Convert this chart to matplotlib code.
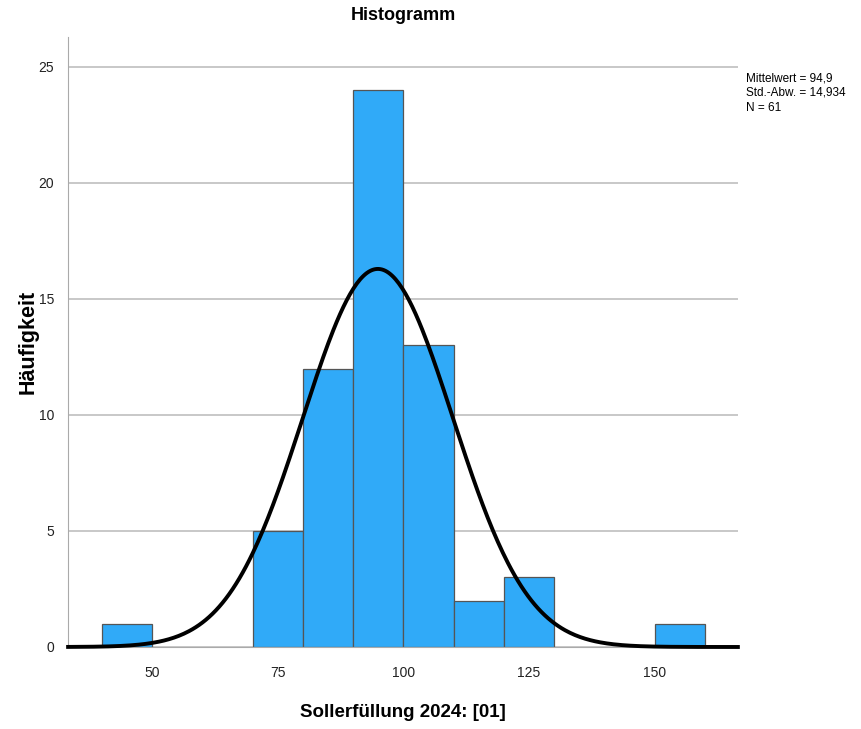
import numpy as np
import matplotlib
matplotlib.use("Agg")
import matplotlib.pyplot as plt

plt.rcParams["font.family"] = ["Liberation Sans", "DejaVu Sans"]

# histogram bins (left edges, width 10) and counts
bin_left = [40, 70, 80, 90, 100, 110, 120, 150]
counts = [1, 5, 12, 24, 13, 2, 3, 1]
bin_width = 10
mean_val = 94.9
std_val = 14.934
n_val = 61
x_ticks = [50, 75, 100, 125, 150]
y_ticks = [0, 5, 10, 15, 20, 25]


def main():
    fig = plt.figure(figsize=(8.62, 7.29), dpi=100)
    ax = fig.add_axes([0.079, 0.1125, 0.777, 0.837])

    ax.bar(bin_left, counts, width=bin_width, align="edge",
           color="#30AAF8", edgecolor="#555555", linewidth=0.9, zorder=2)

    x0, x1 = 33.2, 166.6
    xs = np.linspace(x0, x1, 400)
    ys = n_val * bin_width / (std_val * np.sqrt(2 * np.pi)) * np.exp(-0.5 * ((xs - mean_val) / std_val) ** 2)
    ax.plot(xs, ys, color="black", linewidth=2.8, zorder=3, clip_on=False)

    ax.set_xlim(x0, x1)
    ax.set_ylim(0, 26.3)
    ax.set_xticks(x_ticks)
    ax.set_yticks(y_ticks)
    ax.tick_params(axis="both", length=0, labelsize=10, colors="#222222", pad=10)
    ax.tick_params(axis="x", pad=14)
    ax.yaxis.grid(True, color="#c8c8c8", linewidth=1.4, zorder=0)
    ax.set_axisbelow(True)
    for side in ["top", "right"]:
        ax.spines[side].set_visible(False)
    ax.spines["left"].set_color("#aaaaaa")
    ax.spines["bottom"].set_color("#aaaaaa")

    ax.set_ylabel("Häufigkeit", fontsize=15.5, fontweight="bold", labelpad=0)
    ax.set_xlabel("Sollerfüllung 2024: [01]", fontsize=13.5, fontweight="bold", labelpad=17)
    ax.set_title("Histogramm", fontsize=13, fontweight="bold", pad=12)

    fig.text(0.866, 0.901, "Mittelwert = 94,9\nStd.-Abw. = 14,934\nN = 61",
             fontsize=8.5, va="top", ha="left", linespacing=1.3)

    fig.savefig("out.png", dpi=100)


if __name__ == "__main__":
    main()
